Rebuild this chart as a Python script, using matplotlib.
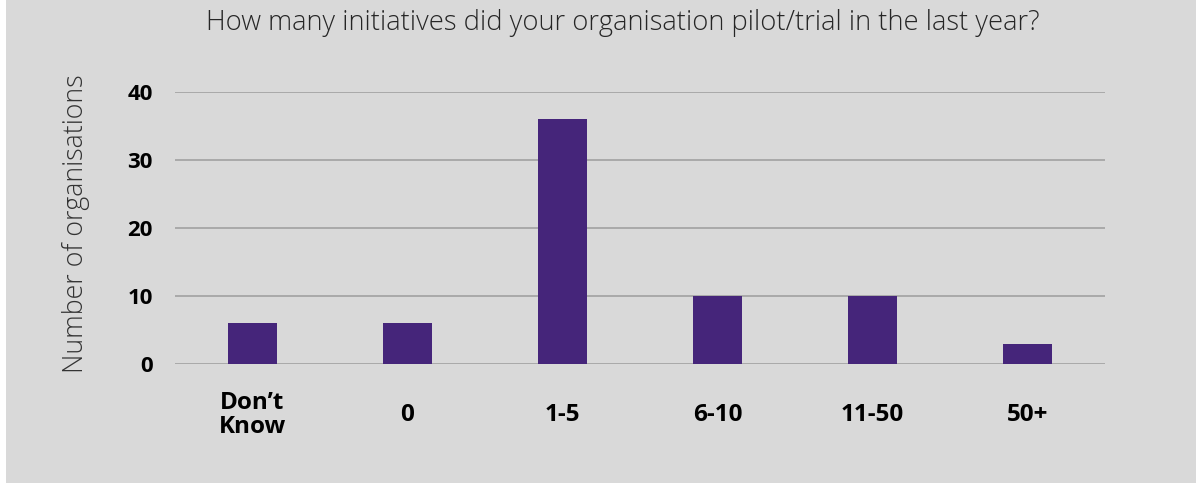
import matplotlib
matplotlib.use("Agg")
import matplotlib.pyplot as plt
from matplotlib.patches import Rectangle

plt.rcParams["font.family"] = ["Open Sans", "DejaVu Sans"]

categories = ["Don\u2019t\nKnow", "0", "1-5", "6-10", "11-50", "50+"]
counts = [6, 6, 36, 10, 10, 3]
y_ticks = [0, 10, 20, 30, 40]

bg = "#d9d9d9"
fig = plt.figure(figsize=(11.96, 4.83), dpi=100)
fig.patch.set_facecolor(bg)
# thin white strip on the left edge
fig.patches.append(Rectangle((0, 0), 6 / 1196, 1, transform=fig.transFigure,
                             facecolor="white", edgecolor="none", zorder=0))

ax = fig.add_axes([175 / 1196, 119 / 483, 930 / 1196, 272 / 483])
ax.set_facecolor(bg)

x = range(len(categories))
ax.bar(x, counts, width=0.315, color="#45257a", zorder=3)

ax.set_xlim(-0.5, len(categories) - 0.5)
ax.set_ylim(0, 40)
ax.set_yticks(y_ticks)
ax.set_yticklabels([str(t) for t in y_ticks], fontsize=16, fontweight="bold")
ax.set_xticks(list(x))
ax.set_xticklabels(categories, fontsize=17.5, fontweight="bold", linespacing=1.0)
for lab in ax.get_xticklabels():
    lab.set_va("center")
ax.tick_params(axis="both", length=0)
ax.tick_params(axis="y", pad=16)
ax.tick_params(axis="x", pad=37)

ax.yaxis.grid(True, color="#a6a6a6", linewidth=1.3, zorder=0)
ax.set_axisbelow(True)
for s in ax.spines.values():
    s.set_visible(False)

ax.set_ylabel("Number of organisations", fontsize=19.3, fontweight="light",
              color="#333333")
ax.yaxis.set_label_coords(-(175 - 90) / 930, (364 - 224) / 272)
fig.text(623 / 1196, 1 - 23 / 483,
         "How many initiatives did your organisation pilot/trial in the last year?",
         fontsize=19.7, fontweight="light", color="#262626", ha="center", va="center")

fig.savefig("out.png", dpi=100, facecolor=bg)
